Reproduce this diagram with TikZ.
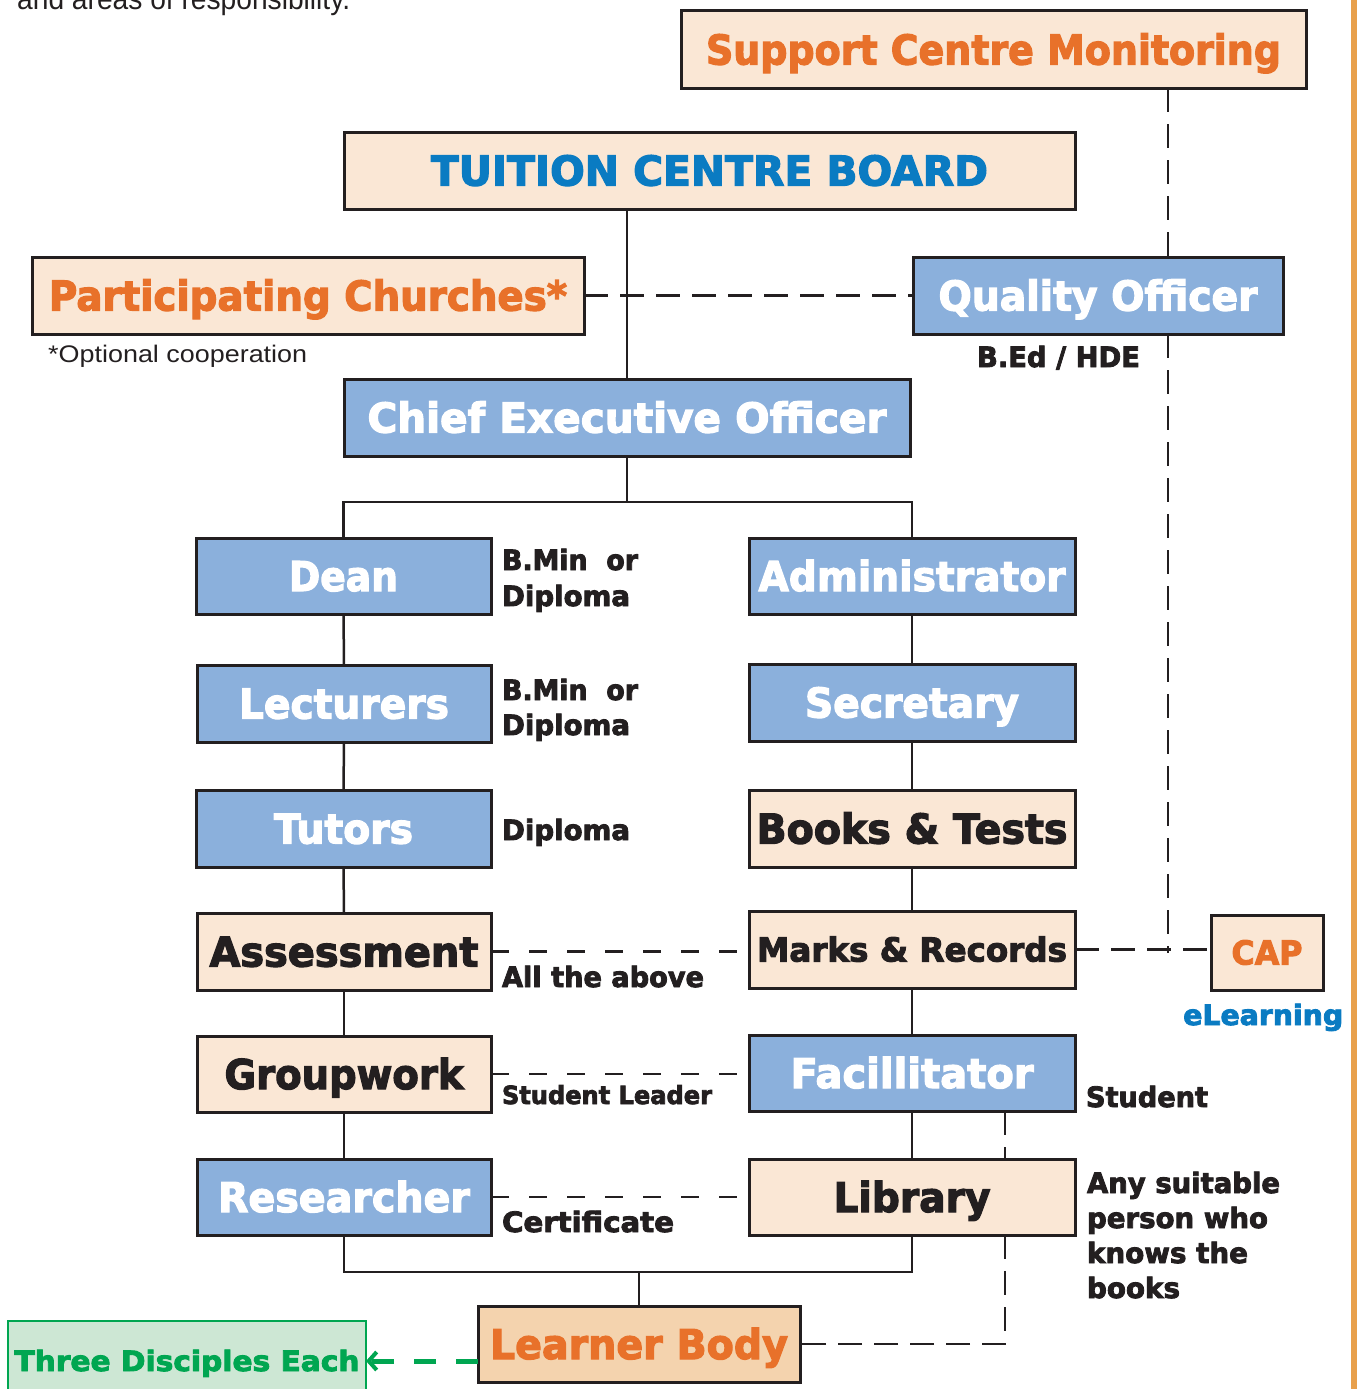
\documentclass[tikz,border=0pt]{standalone}
\usepackage{fontspec}
\usepackage{graphicx}
\setmainfont{Liberation Sans}
\newfontfamily\hv{DejaVu Sans}[BoldFeatures={FakeBold=3}]
\usetikzlibrary{arrows.meta}
\definecolor{dk}{HTML}{231F20}
\definecolor{beige}{HTML}{FAE7D5}
\definecolor{lbody}{HTML}{F4D3AE}
\definecolor{bluefill}{HTML}{8BB0DC}
\definecolor{orng}{HTML}{E8712A}
\definecolor{bluetxt}{HTML}{0A7BC2}
\definecolor{grn}{HTML}{00A651}
\definecolor{grnfill}{HTML}{CDE7D4}
\definecolor{edgeorange}{HTML}{E8A04C}
\newcommand\T[3]{\resizebox{#1pt}{\height}{\fontsize{#2pt}{#2pt}\selectfont #3}}
\newcommand\bx[7]{\node[#6, minimum width={#4-#2}, minimum height={#5-#3}] (#1) at ({(#2+#4)/2},{(#3+#5)/2}) {#7};}
\tikzset{
  bx/.style={draw=dk, line width=3pt, inner sep=0pt, outer sep=0pt, font=\hv\bfseries, text depth=0pt},
  beigebox/.style={bx, fill=beige},
  bluebox/.style={bx, fill=bluefill, text=white},
  big/.style={text height=30pt},
  mid/.style={text height=24pt},
  ln/.style={draw=dk, line width=2.5pt},
  dln/.style={ln, dash pattern=on 24pt off 12pt},
  dlnb/.style={ln, dash pattern=on 18pt off 20pt},
  lab/.style={anchor=base west, inner sep=0pt, outer sep=0pt, font=\hv\bfseries, text=dk},
}
\begin{document}
\begin{tikzpicture}[x=1pt,y=-1pt]
\useasboundingbox (0,0) rectangle (1357,1389);
\fill[edgeorange] (1351,0) rectangle (1357,1389);
\node[anchor=base west, inner sep=0pt, text=dk] (intro) at (17,10) {\T{333}{30}{and areas of responsibility.}};

% boxes
\bx{scm}{681}{11}{1306}{88}{beigebox,big,text=orng}{\T{575}{41}{Support Centre Monitoring}}
\bx{tcb}{344}{132}{1075}{209}{beigebox,big,text=bluetxt}{\T{557}{41}{TUITION CENTRE BOARD}}
\bx{pc}{32}{257}{584}{334}{beigebox,big,text=orng}{\T{518}{41}{Participating Churches*}}
\bx{qo}{913}{257}{1283}{334}{bluebox,big}{\T{319}{41}{Quality Officer}}
\bx{ceo}{344}{379}{910}{456}{bluebox,big}{\T{519}{41}{Chief Executive Officer}}
\bx{dean}{196}{538}{491}{614}{bluebox,big}{\T{109}{41}{Dean}}
\bx{adm}{749}{538}{1075}{614}{bluebox,big}{\T{307}{41}{Administrator}}
\bx{lec}{197}{665}{491}{742}{bluebox,big}{\T{210}{41}{Lecturers}}
\bx{sec}{749}{664}{1075}{741}{bluebox,big}{\T{214}{41}{Secretary}}
\bx{tut}{196}{790}{491}{867}{bluebox,big}{\T{139}{41}{Tutors}}
\bx{bt}{749}{790}{1075}{867}{beigebox,big,text=dk}{\T{311}{41}{Books \& Tests}}
\bx{asm}{197}{913}{491}{990}{beigebox,big,text=dk}{\T{269}{41}{Assessment}}
\bx{mr}{749}{911}{1075}{988}{beigebox,mid,text=dk}{\T{310}{33}{Marks \& Records}}
\bx{cap}{1211}{915}{1323}{990}{beigebox,mid,text=orng}{\T{71}{33}{CAP}}
\bx{gw}{197}{1036}{491}{1112}{beigebox,big,text=dk}{\T{239}{41}{Groupwork}}
\bx{fac}{749}{1035}{1075}{1111}{bluebox,big}{\T{243}{41}{Facillitator}}
\bx{res}{197}{1159}{491}{1235}{bluebox,big}{\T{252}{41}{Researcher}}
\bx{lib}{749}{1159}{1075}{1235}{beigebox,big,text=dk}{\T{157}{41}{Library}}
\bx{lb}{478}{1306}{800}{1382}{bx,fill=lbody,big,text=orng}{\T{298}{41}{Learner Body}}
\node[draw=grn, line width=2.5pt, fill=grnfill, inner sep=0pt, outer sep=0pt, text=grn, text height=20pt, text depth=0pt, font=\hv\bfseries, minimum width=358, minimum height=80] (tde) at (187,1361) {\T{345}{28}{Three Disciples Each}};

% labels
\node[anchor=base west, inner sep=0pt, text=dk] (opt) at (48,362) {\T{259}{24}{*Optional cooperation}};
\node[lab] (bed) at (977,367) {\T{163}{28}{B.Ed / HDE}};
\node[lab] (q1a) at (502,570) {\T{136}{28}{B.Min\ \ or}};
\node[lab] (q1b) at (502,606) {\T{128}{28}{Diploma}};
\node[lab] (q2a) at (502,700) {\T{136}{28}{B.Min\ \ or}};
\node[lab] (q2b) at (502,735) {\T{128}{28}{Diploma}};
\node[lab] (q3) at (502,840) {\T{128}{28}{Diploma}};
\node[lab] (q4) at (502,987) {\T{202}{28}{All the above}};
\node[lab] (q5) at (502,1104) {\T{210}{25}{Student Leader}};
\node[lab] (q6) at (502,1232) {\T{172}{28}{Certificate}};
\node[lab] (q7) at (1086,1107) {\T{122}{28}{Student}};
\node[lab] (a1) at (1087,1193) {\T{193}{28}{Any suitable}};
\node[lab] (a2) at (1087,1228) {\T{181}{28}{person who}};
\node[lab] (a3) at (1087,1263) {\T{161}{28}{knows the}};
\node[lab] (a4) at (1087,1298) {\T{93}{28}{books}};
\node[anchor=base west, inner sep=0pt, text=bluetxt, font=\hv\bfseries] (elearn) at (1183,1025) {\T{160}{28}{eLearning}};

% helper coordinates
\coordinate (qx) at (1168,0);
\coordinate (fx) at (1005,0);
\coordinate (j1) at (0,502);
\coordinate (jb) at (0,1272);

% solid connectors
\draw[ln] (ceo.north |- tcb.south) -- (ceo.north);
\draw[ln] (ceo.south) -- (ceo.south |- j1);
\draw[ln] (dean.north) |- (adm.north |- j1) -- (adm.north);
\draw[ln] (dean.south) -- (lec.north);
\draw[ln] (lec.south) -- (tut.north);
\draw[ln] (tut.south) -- (asm.north);
\draw[ln] (asm.south) -- (gw.north);
\draw[ln] (gw.south) -- (res.north);
\draw[ln] (adm.south) -- (sec.north);
\draw[ln] (sec.south) -- (bt.north);
\draw[ln] (bt.south) -- (mr.north);
\draw[ln] (mr.south) -- (fac.north);
\draw[ln] (fac.south) -- (lib.north);
\draw[ln] (res.south) |- (lib.south |- jb) -- (lib.south);
\draw[ln] (lb.north) -- (lb.north |- jb);

% dashed connectors
\draw[dln] (pc.east) -- (qo.west);
\draw[dln] (scm.south -| qx) -- (qo.north -| qx);
\draw[dln] (qo.south -| qx) -- (qx |- cap.west);
\draw[dln] (mr.east) -- (cap.west |- mr.east);
\draw[dlnb] (asm.east) -- (asm.east -| mr.west);
\draw[dlnb] (gw.east) -- (gw.east -| fac.west);
\draw[dlnb] (res.east) -- (res.east -| lib.west);
\draw[dln] (fac.south -| fx) -- (lib.north -| fx);
\draw[dln] (lib.south -| fx) -- (fx |- lb.east) -- (lb.east);
\draw[draw=grn, line width=5pt, dash pattern=on 22pt off 20pt, -{Straight Barb[length=8pt,width=18pt,line width=4pt]}] (lb.west |- tde.east) -- (tde.east);
\end{tikzpicture}
\end{document}
